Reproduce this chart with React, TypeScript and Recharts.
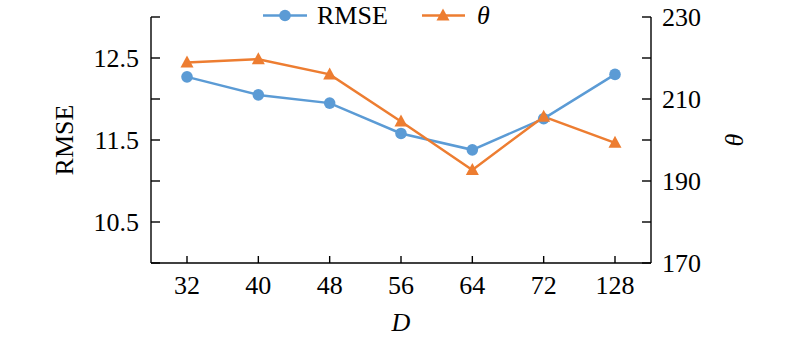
import React from 'react';
import { LineChart, Line, XAxis, YAxis, Legend } from 'recharts';

const categories = ['32', '40', '48', '56', '64', '72', '128'];
const rmseValues = [12.27, 12.05, 11.95, 11.58, 11.38, 11.76, 12.3];
const thetaValues = [218.9, 219.7, 216.0, 204.5, 192.7, 205.7, 199.3];

const rmseTicks = [10, 10.5, 11, 11.5, 12, 12.5, 13];
const rmseTickLabels = [10.5, 11.5, 12.5];
const thetaTicks = [170, 180, 190, 200, 210, 220, 230];
const thetaTickLabels = [170, 190, 210, 230];

const data = categories.map((d, i) => ({ d, rmse: rmseValues[i], theta: thetaValues[i] }));

const FONT = "'Liberation Serif', 'Times New Roman', serif";
const BLUE = '#5B9BD5';
const ORANGE = '#ED7D31';
const tickStyle = { fontFamily: FONT, fontSize: 26, fill: '#000', style: { fontFamily: FONT } };

const Triangle = (props: any) => {
    const { cx, cy, index } = props;
    if (cx == null || cy == null) return <g key={'t' + index} />;
    return <path key={'t' + index} d={`M${cx},${cy - 7} L${cx + 6.5},${cy + 5} L${cx - 6.5},${cy + 5} Z`} fill={ORANGE} />;
};

const LegendContent = () => (
    <svg width={800} height={32} style={{ display: 'block', fontFamily: FONT }}>
        <line x1={263} x2={307} y1={15.5} y2={15.5} stroke={BLUE} strokeWidth={2.5} />
        <circle cx={285} cy={15.5} r={5.8} fill={BLUE} />
        <text x={317} y={24} fontSize={26} fill="#000">RMSE</text>
        <line x1={422} x2={465} y1={15.5} y2={15.5} stroke={ORANGE} strokeWidth={2.5} />
        <path d="M443,8.5 L449.5,20.5 L436.5,20.5 Z" fill={ORANGE} />
        <text x={477} y={24} fontSize={26} fontStyle="italic" fill="#000">θ</text>
    </svg>
);

const axisTitle = (value: string, x: number, italic: boolean) => (p: any) => {
    const cy = p.viewBox.y + p.viewBox.height / 2;
    return (
        <text
            x={x}
            y={cy}
            transform={`rotate(-90, ${x}, ${cy})`}
            textAnchor="middle"
            dominantBaseline="central"
            fontSize={26}
            fontStyle={italic ? 'italic' : 'normal'}
            fill="#000"
            style={{ fontFamily: FONT }}
        >
            {value}
        </text>
    );
};

const App = () => {
    return (
        <div style={{ position: 'absolute', left: 0, top: 0, width: 800, height: 339, background: '#fff', fontFamily: FONT }}>
            <LineChart width={800} height={339} data={data} margin={{ top: 17, right: 0, bottom: 0, left: 0 }} style={{ fontFamily: FONT }}>
                <XAxis
                    dataKey="d"
                    height={76}
                    padding={{ left: 36, right: 36 }}
                    stroke="#000"
                    strokeWidth={1.4}
                    tickSize={-7}
                    tickMargin={20}
                    interval={0}
                    tick={tickStyle}
                    label={{ value: 'D', position: 'insideBottom', offset: 8, fontSize: 26, fontStyle: 'italic', fill: '#000', style: { fontFamily: FONT } }}
                />
                <YAxis
                    yAxisId="left"
                    width={151}
                    domain={[10, 13]}
                    ticks={rmseTicks}
                    interval={0}
                    stroke="#000"
                    strokeWidth={1.4}
                    tickSize={-9}
                    tickMargin={21}
                    tick={tickStyle}
                    tickFormatter={(v: number) => (rmseTickLabels.includes(v) ? v.toFixed(1) : '')}
                    label={{ content: axisTitle('RMSE', 64, false) }}
                />
                <YAxis
                    yAxisId="right"
                    orientation="right"
                    width={149}
                    domain={[170, 230]}
                    ticks={thetaTicks}
                    interval={0}
                    stroke="#000"
                    strokeWidth={1.4}
                    tickSize={-9}
                    tickMargin={20}
                    tick={tickStyle}
                    tickFormatter={(v: number) => (thetaTickLabels.includes(v) ? String(v) : '')}
                    label={{ content: axisTitle('θ', 734, true) }}
                />
                <Legend
                    layout="horizontal"
                    verticalAlign="middle"
                    wrapperStyle={{ top: 0, left: 0, width: 800 }}
                    content={LegendContent}
                />
                <Line
                    yAxisId="left"
                    dataKey="rmse"
                    stroke={BLUE}
                    strokeWidth={2.5}
                    dot={{ r: 5.8, fill: BLUE, stroke: BLUE, strokeWidth: 0 }}
                    activeDot={false}
                    isAnimationActive={false}
                />
                <Line
                    yAxisId="right"
                    dataKey="theta"
                    stroke={ORANGE}
                    strokeWidth={2.5}
                    dot={Triangle}
                    activeDot={false}
                    isAnimationActive={false}
                />
            </LineChart>
        </div>
    );
};

export default App;
